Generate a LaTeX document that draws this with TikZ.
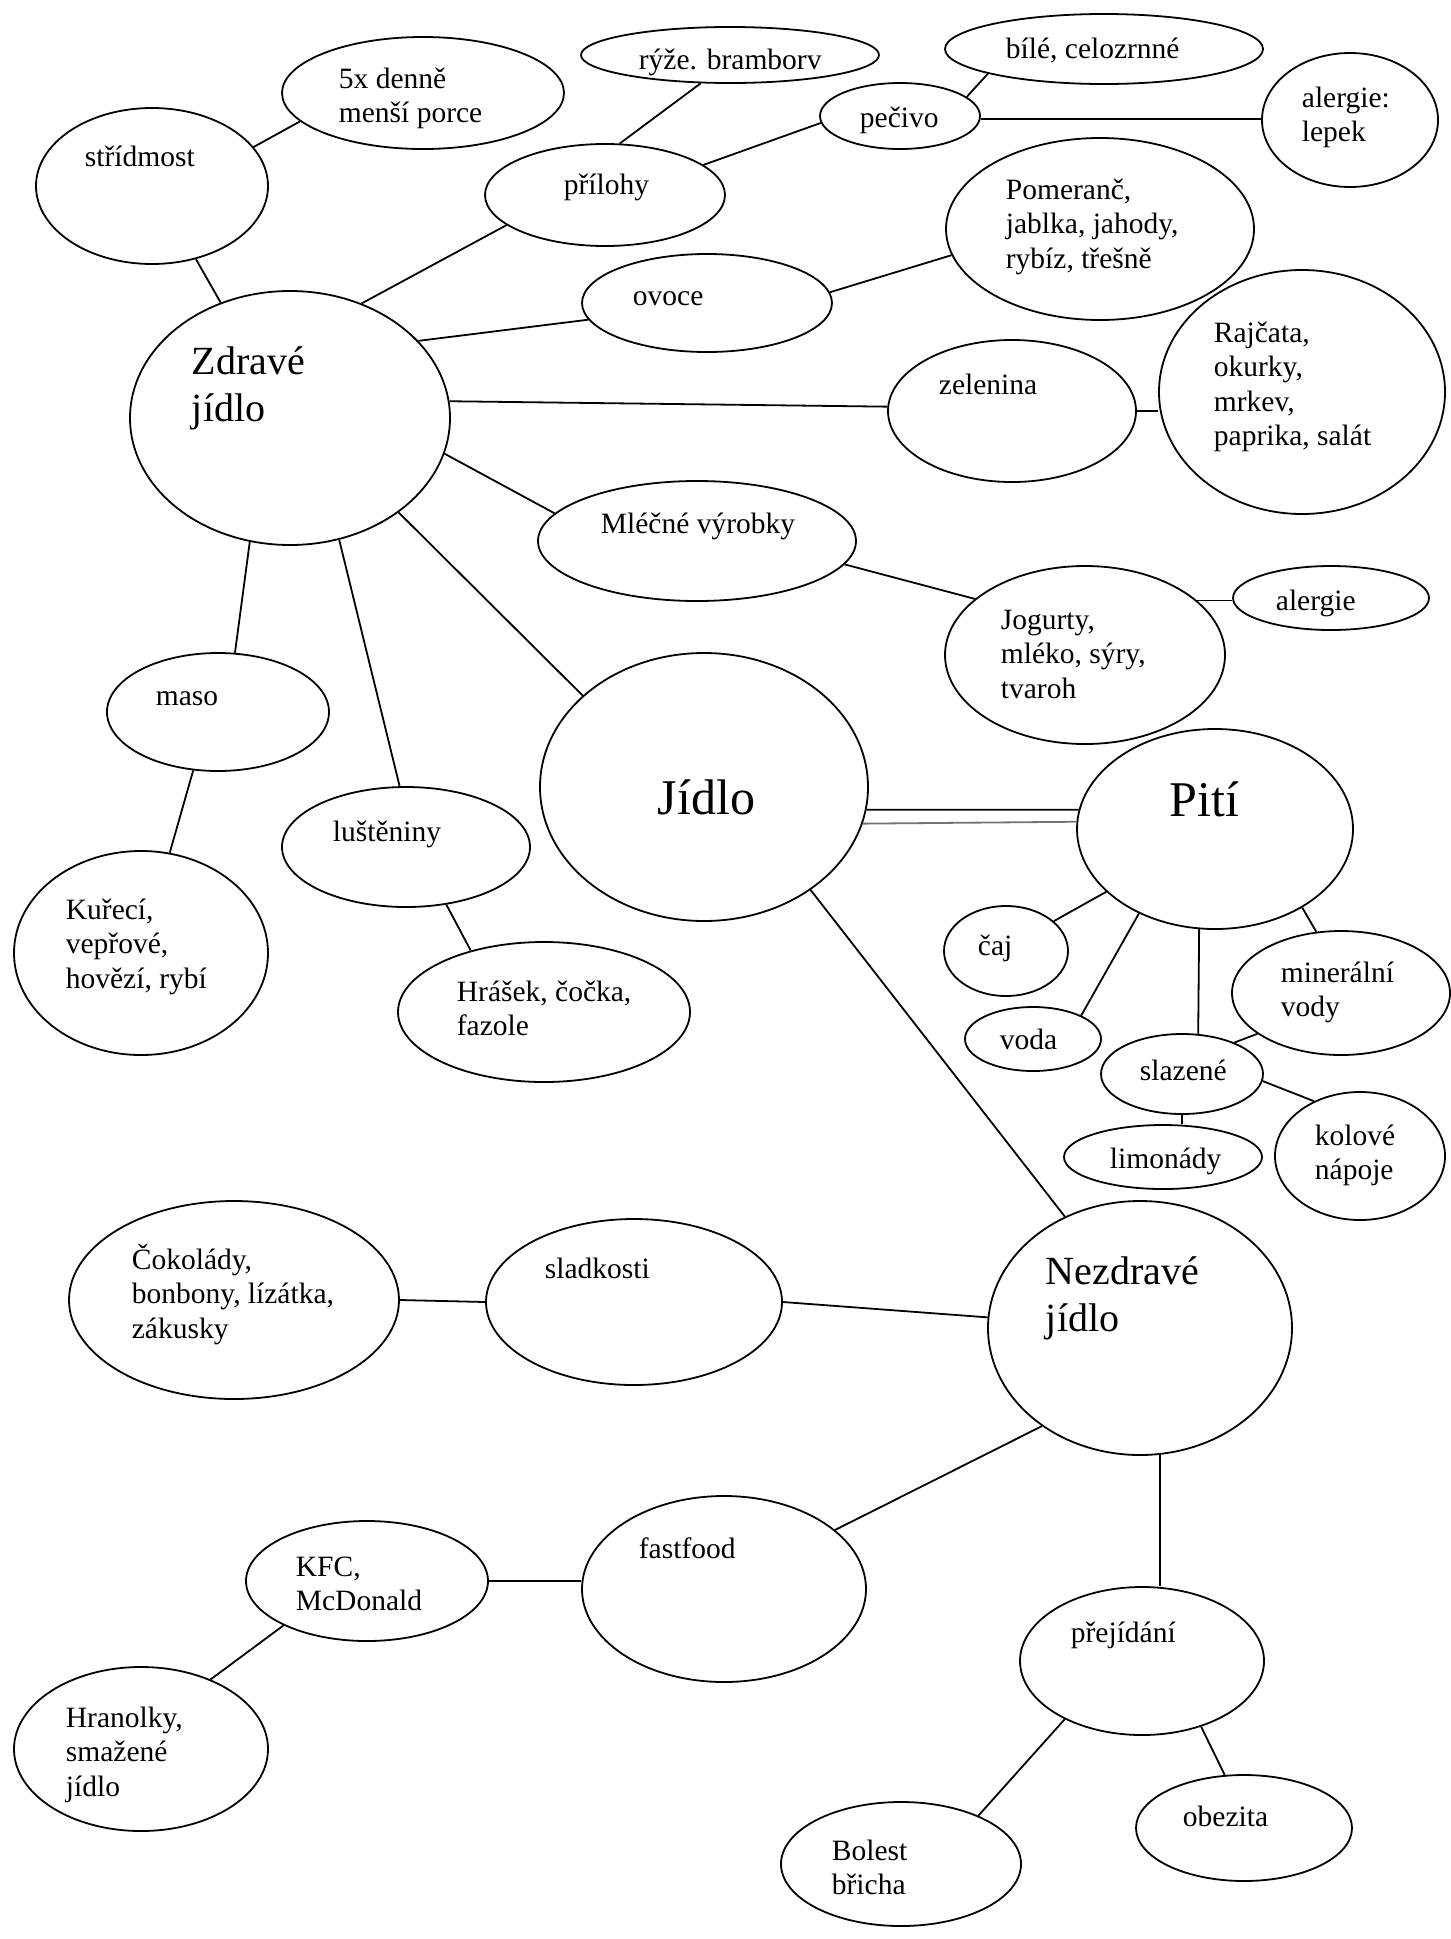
\documentclass[tikz,border=0pt]{standalone}
\usepackage{fontspec}
\setmainfont{Liberation Serif}
\usetikzlibrary{shapes.geometric}
\newcommand{\txtsz}{\fontsize{29.5}{34.5}\selectfont}
\newcommand{\bigsz}{\fontsize{40}{47}\selectfont}
\newcommand{\hugesz}{\fontsize{50}{58}\selectfont}

\begin{document}
\begin{tikzpicture}[x=1pt, y=-1pt, line width=1.8pt,
    oval/.style={draw, ellipse, inner sep=0pt},
    txt/.style={anchor=base west, align=left, inner sep=0pt, font=\txtsz}]
		\fill[white] (0,0) rectangle (1451,1939);
		% healthy food branch
		\node[oval, minimum width=320pt, minimum height=254pt] (zdrave) at (290,418) {};
		\node[oval, minimum width=232pt, minimum height=156pt] (stridmost) at (152,186) {};
		\node[oval, minimum width=282pt, minimum height=112pt] (denne) at (423,93) {};
		\node[oval, minimum width=240pt, minimum height=102pt] (prilohy) at (605,195) {};
		\node[oval, minimum width=298pt, minimum height=56pt] (ryze) at (730,55) {};
		\node[oval, minimum width=160pt, minimum height=66pt] (pecivo) at (900,116) {};
		\node[oval, minimum width=318pt, minimum height=70pt] (bile) at (1104,49) {};
		\node[oval, minimum width=176pt, minimum height=134pt] (lepek) at (1350,120) {};
		\node[oval, minimum width=250pt, minimum height=98pt] (ovoce) at (707,303) {};
		\node[oval, minimum width=308pt, minimum height=182pt] (pomeranc) at (1100,229) {};
		\node[oval, minimum width=248pt, minimum height=142pt] (zelenina) at (1012,411) {};
		\node[oval, minimum width=286pt, minimum height=244pt] (rajcata) at (1302,392) {};
		\node[oval, minimum width=318pt, minimum height=120pt] (mlecne) at (697,541) {};
		\node[oval, minimum width=280pt, minimum height=178pt] (jogurty) at (1085,655) {};
		\node[oval, minimum width=196pt, minimum height=64pt] (alergie) at (1331,598) {};
		\node[oval, minimum width=222pt, minimum height=118pt] (maso) at (218,712) {};
		\node[oval, minimum width=254pt, minimum height=204pt] (kureci) at (141,953) {};
		\node[oval, minimum width=248pt, minimum height=120pt] (lusteniny) at (406,847) {};
		\node[oval, minimum width=292pt, minimum height=140pt] (hrasek) at (544,1012) {};
		% centre and drinks
		\node[oval, minimum width=328pt, minimum height=268pt] (jidlo) at (704,787) {};
		\node[oval, minimum width=276pt, minimum height=200pt] (piti) at (1215,829) {};
		\node[oval, minimum width=124pt, minimum height=90pt] (caj) at (1006,951) {};
		\node[oval, minimum width=136pt, minimum height=64pt] (voda) at (1033,1039) {};
		\node[oval, minimum width=218pt, minimum height=124pt] (mineralni) at (1341,993) {};
		\node[oval, minimum width=162pt, minimum height=80pt] (slazene) at (1182,1074) {};
		\node[oval, minimum width=170pt, minimum height=128pt] (kolove) at (1360,1156) {};
		\node[oval, minimum width=198pt, minimum height=64pt] (limonady) at (1163,1157) {};
		% unhealthy food branch
		\node[oval, minimum width=304pt, minimum height=254pt] (nezdrave) at (1140,1328) {};
		\node[oval, minimum width=296pt, minimum height=166pt] (sladkosti) at (634,1302) {};
		\node[oval, minimum width=330pt, minimum height=198pt] (cokolady) at (234,1300) {};
		\node[oval, minimum width=284pt, minimum height=186pt] (fastfood) at (724,1589) {};
		\node[oval, minimum width=242pt, minimum height=120pt] (kfc) at (367,1581) {};
		\node[oval, minimum width=254pt, minimum height=164pt] (hranolky) at (141,1749) {};
		\node[oval, minimum width=244pt, minimum height=148pt] (prejidani) at (1142,1661) {};
		\node[oval, minimum width=216pt, minimum height=106pt] (obezita) at (1244,1828) {};
		\node[oval, minimum width=240pt, minimum height=124pt] (bolest) at (901,1864) {};
		% texts (base = last line)
		\node[txt, font=\bigsz] (zdrave-t) at (191,421) {Zdravé\\jídlo};
		\node[txt] (stridmost-t) at (84,166) {střídmost};
		\node[txt] (denne-t) at (338,122.5) {5x denně\\menší porce};
		\node[txt] (prilohy-t) at (563,194) {přílohy};
		\node[txt] (ryze-t) at (638,69) {rýže. bramborv};
		\node[txt] (pecivo-t) at (859,127) {pečivo};
		\node[txt] (bile-t) at (1005,58) {bílé, celozrnné};
		\node[txt] (lepek-t) at (1301,141.5) {alergie:\\lepek};
		\node[txt] (ovoce-t) at (632,305) {ovoce};
		\node[txt] (pomeranc-t) at (1005,268) {Pomeranč,\\jablka, jahody,\\rybíz, třešně};
		\node[txt] (zelenina-t) at (938,394) {zelenina};
		\node[txt] (rajcata-t) at (1213,445.5) {Rajčata,\\okurky,\\mrkev,\\paprika, salát};
		\node[txt] (mlecne-t) at (600,533) {Mléčné výrobky};
		\node[txt] (jogurty-t) at (1000,698) {Jogurty,\\mléko, sýry,\\tvaroh};
		\node[txt] (alergie-t) at (1275,610) {alergie};
		\node[txt] (maso-t) at (155,705) {maso};
		\node[txt] (kureci-t) at (65,988) {Kuřecí,\\vepřové,\\hovězí, rybí};
		\node[txt] (lusteniny-t) at (332,841) {luštěniny};
		\node[txt] (hrasek-t) at (456,1035.5) {Hrášek, čočka,\\fazole};
		\node[txt, font=\hugesz] (jidlo-t) at (657,814) {Jídlo};
		\node[txt, font=\hugesz] (piti-t) at (1169,816) {Pití};
		\node[txt] (caj-t) at (977,955) {čaj};
		\node[txt] (voda-t) at (999,1049) {voda};
		\node[txt] (mineralni-t) at (1280,1016.5) {minerální\\vody};
		\node[txt] (slazene-t) at (1139,1080) {slazené};
		\node[txt] (kolove-t) at (1314,1179.5) {kolové\\nápoje};
		\node[txt] (limonady-t) at (1109,1168) {limonády};
		\node[txt, font=\bigsz] (nezdrave-t) at (1045,1331) {Nezdravé\\jídlo};
		\node[txt] (sladkosti-t) at (544,1278) {sladkosti};
		\node[txt] (cokolady-t) at (131,1338) {Čokolády,\\bonbony, lízátka,\\zákusky};
		\node[txt] (fastfood-t) at (638,1558) {fastfood};
		\node[txt] (kfc-t) at (295,1610.5) {KFC,\\McDonald};
		\node[txt] (hranolky-t) at (65,1796) {Hranolky,\\smažené\\jídlo};
		\node[txt] (prejidani-t) at (1070,1642) {přejídání};
		\node[txt] (obezita-t) at (1182,1826) {obezita};
		\node[txt] (bolest-t) at (831,1894.5) {Bolest\\břicha};
		% connectors
		\draw (stridmost.21.4) -- (denne.-167.3);
		\draw (stridmost.-59.4) -- (zdrave.121.8);
		\draw (zdrave.58.7) -- (prilohy.-163.3);
		\draw (prilohy.74.6) -- (ryze.-136.9);
		\draw (prilohy.17.9) -- (pecivo.-175);
		\draw (pecivo.16.3) -- (bile.-168.8);
		\draw (pecivo.-2.2) -- (pecivo.-2.2 -| lepek.west);
		\draw (zdrave.31.2) -- (ovoce.-172.7);
		\draw (ovoce.5.1) -- (pomeranc.-170.1);
		\draw (zdrave.6.8) -- (zelenina.178.6);
		\draw (zelenina.east) -- (zelenina.east -| rajcata.west);
		\draw (zdrave.-13.4) -- (mlecne.169.5);
		\draw (mlecne.-9.2) -- (jogurty.153.4);
		\draw (jogurty.26) -- (jogurty.26 -| alergie.west);
		\draw (zdrave.-41.1) -- (jidlo.143.7);
		\draw (zdrave.-108.8) -- (maso.74.3);
		\draw (zdrave.-68.8) -- (lusteniny.96.5);
		\draw (maso.-113.1) -- (kureci.74.7);
		\draw (lusteniny.-55) -- (hrasek.140.6);
		\draw (jidlo.-8.5) -- (piti.172.5);
		\draw[black!55] (jidlo.-13.2) -- (piti.177.9);
		\draw (piti.-150.7) -- (caj.32.6);
		\draw (piti.-132.2) -- (voda.26.6);
		\draw (piti.-99.6) -- (slazene.68.2);
		\draw (piti.-42.9) -- (mineralni.112.8);
		\draw (mineralni.-154.2) -- (slazene.31.6);
		\draw (slazene.-5.7) -- (kolove.130.9);
		\draw (slazene.south) -- (slazene.south |- limonady.north);
		\draw (jidlo.-44.5) -- (nezdrave.124);
		\draw (cokolady.east) -- (sladkosti.west);
		\draw (sladkosti.east) -- (nezdrave.176.6);
		\draw (nezdrave.-135) -- (fastfood.28.6);
		\draw (kfc.east) -- (kfc.east -| fastfood.west);
		\draw (kfc.-152.1) -- (hranolky.45.8);
		\draw (nezdrave.-81.5) -- (nezdrave.-81.5 |- prejidani.north);
		\draw (prejidani.-143) -- (bolest.32.8);
		\draw (prejidani.-48.2) -- (obezita.110.3);
\end{tikzpicture}
\end{document}
